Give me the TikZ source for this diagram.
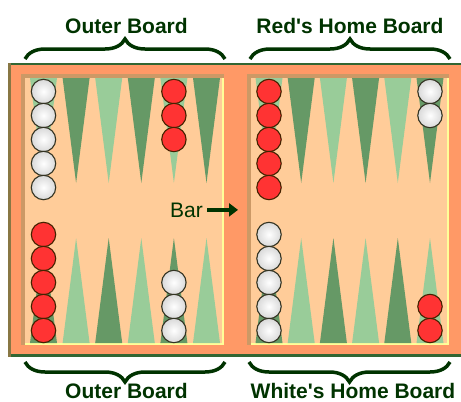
\documentclass[tikz,border=0pt]{standalone}
\usepackage{fontspec}
\setmainfont{Liberation Sans}
\newfontfamily\plainsans{Liberation Sans}
\usetikzlibrary{decorations.pathreplacing,arrows.meta}
\definecolor{framec}{HTML}{FF9966}
\definecolor{peach}{HTML}{FFCC99}
\definecolor{shadowc}{HTML}{CC9966}
\definecolor{hilite}{HTML}{FFFF99}
\definecolor{edgegreen}{HTML}{336633}
\definecolor{edgeolive}{HTML}{887744}
\definecolor{darkpt}{HTML}{669966}
\definecolor{lightpt}{HTML}{99CC99}
\definecolor{ink}{HTML}{003300}
\definecolor{redc}{HTML}{FF3333}
\definecolor{redline}{HTML}{442200}
\definecolor{whiteline}{HTML}{333322}
\tikzset{
  heading/.style={font=\plainsans\bfseries\fontsize{21}{21}\selectfont, text=ink, inner sep=0pt, anchor=base},
  bartext/.style={font=\plainsans\fontsize{21}{21}\selectfont, text=ink, inner sep=1pt, anchor=base east},
  bracedec/.style={draw=ink, line width=3.5pt, decorate, decoration={brace, amplitude=20pt}},
  bararrow/.style={draw=ink, line width=4pt, -{Triangle[length=9pt,width=13pt]}},
  wchk/.style={draw=whiteline, line width=1.1pt, inner color=white, outer color=gray!30},
  rchk/.style={draw=redline, line width=1.1pt, fill=redc},
}
\begin{document}
\begin{tikzpicture}[x=1pt,y=-1pt]
\useasboundingbox (0,0) rectangle (461,402);
% board frame
\fill[framec] (8,63) rectangle (461,357);
\fill[edgegreen] (8,63) rectangle (461,65);
\fill[edgegreen] (8,354) rectangle (461,357);
\fill[edgeolive] (8,63) rectangle (11,357);
% inner halves
\foreach \xa/\xb in {21/224, 247/449} {
  \fill[shadowc] (\xa,74) rectangle (\xb,345);
  \fill[hilite] (\xa+4,78) rectangle (\xb,345);
  \fill[peach] (\xa+4,78) rectangle (\xb-2,343);
}
% points
\foreach \cx/\tc/\bc in {43.5/lightpt/darkpt, 76.1/darkpt/lightpt, 108.7/lightpt/darkpt,
  141.3/darkpt/lightpt, 173.9/lightpt/darkpt, 206.5/darkpt/lightpt,
  269/lightpt/darkpt, 301.2/darkpt/lightpt, 333.4/lightpt/darkpt,
  365.6/darkpt/lightpt, 397.8/lightpt/darkpt, 430/darkpt/lightpt} {
  \fill[\tc] (\cx-13.5,78) -- (\cx+13.5,78) -- (\cx,183) -- cycle;
  \fill[\bc] (\cx-13.5,343) -- (\cx+13.5,343) -- (\cx,238) -- cycle;
}
% checkers top
\foreach \y in {91.5,115.5,139.5,163.5,187.5} {
  \shade[wchk] (43.5,\y) circle[radius=12.2];
  \draw[rchk] (269,\y) circle[radius=12.2];
}
\foreach \y in {91.5,115.5,139.5} \draw[rchk] (173.9,\y) circle[radius=12.2];
\foreach \y in {91.5,115.5} \shade[wchk] (430,\y) circle[radius=12.2];
% checkers bottom
\foreach \y in {234.5,258.5,282.5,306.5,330.5} {
  \draw[rchk] (43.5,\y) circle[radius=12.2];
  \shade[wchk] (269,\y) circle[radius=12.2];
}
\foreach \y in {282.5,306.5,330.5} \shade[wchk] (173.9,\y) circle[radius=12.2];
\foreach \y in {306.5,330.5} \draw[rchk] (430,\y) circle[radius=12.2];
% bar label
\node[bartext] (bar) at (204,217) {Bar};
\coordinate (barend) at (238,209.5);
\draw[bararrow, shorten <=3pt] (bar.east) -- (bar.east -| barend);
% headings
\node[heading] (tl) at (126.5,33) {Outer Board};
\node[heading] (tr) at (350,33) {Red's Home Board};
\node[heading] (bl) at (126.5,398.5) {Outer Board};
\node[heading] (br) at (353,398.5) {White's Home Board};
% braces
\coordinate (tla) at (25,59); \coordinate (tlb) at (225,59);
\coordinate (tra) at (250,59); \coordinate (trb) at (450,59);
\coordinate (bla) at (25,362); \coordinate (blb) at (225,362);
\coordinate (bra) at (249,362); \coordinate (brb) at (450,362);
\draw[bracedec] (tla) -- (tlb);
\draw[bracedec] (tra) -- (trb);
\draw[bracedec] (blb) -- (bla);
\draw[bracedec] (brb) -- (bra);
\end{tikzpicture}
\end{document}
